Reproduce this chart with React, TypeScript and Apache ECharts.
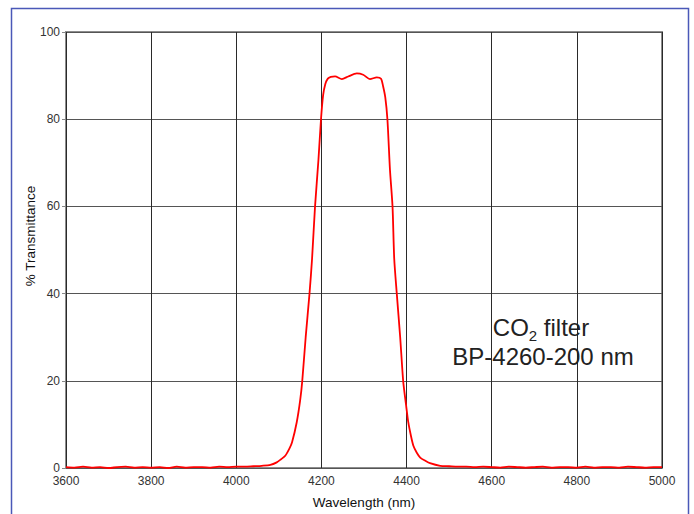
import React, { useEffect, useRef } from "react";
import * as echarts from "echarts";

const wavelength: number[] = [
  3600, 3620, 3640, 3660, 3680, 3700, 3720, 3740, 3760, 3780,
  3800, 3820, 3840, 3860, 3880, 3900, 3920, 3940, 3960, 3980,
  4000, 4020, 4040, 4060, 4080, 4095, 4105, 4115, 4125, 4131,
  4142, 4150, 4155, 4163, 4172, 4178, 4185, 4193, 4199, 4204,
  4209, 4215, 4222, 4232, 4248, 4263, 4283, 4298, 4314, 4330,
  4340, 4345, 4350, 4355, 4361, 4367, 4371, 4377, 4385, 4392,
  4399, 4404, 4410, 4416, 4424, 4432, 4445, 4455, 4479, 4500,
  4520, 4540, 4560, 4580, 4600, 4620, 4640, 4660, 4680, 4700,
  4720, 4740, 4760, 4780, 4800, 4820, 4840, 4860, 4880, 4900,
  4920, 4940, 4960, 4980, 5000,
];

const transmittance: number[] = [
  0.2, 0.1, 0.3, 0.1, 0.2, 0.0, 0.2, 0.3, 0.1, 0.2,
  0.1, 0.2, 0.0, 0.3, 0.1, 0.2, 0.2, 0.1, 0.3, 0.2,
  0.3, 0.3, 0.4, 0.5, 0.7, 1.3, 2.0, 2.8, 4.5, 5.9,
  10.5, 15.5, 20, 30, 40, 48, 60, 70.7, 80, 85.5,
  88, 89.3, 89.7, 89.8, 89.2, 89.8, 90.5, 90.2, 89.2, 89.6,
  89.3, 87.5, 85, 80, 68.4, 60, 48, 40, 30, 20,
  14.3, 10.5, 7.5, 5.1, 3.5, 2.4, 1.6, 1.1, 0.5, 0.4,
  0.3, 0.3, 0.2, 0.3, 0.2, 0.1, 0.3, 0.2, 0.1, 0.2,
  0.3, 0.1, 0.2, 0.2, 0.1, 0.3, 0.1, 0.2, 0.2, 0.1,
  0.3, 0.2, 0.1, 0.2, 0.2,
];

const xTicks = { min: 3600, max: 5000, interval: 200 };
const yTicks = { min: 0, max: 100, interval: 20 };

const xTitle = "Wavelength (nm)";
const yTitle = "% Transmittance";
const noteLine1 = ["CO", "2", " filter"];
const noteLine2 = "BP-4260-200 nm";

export default function App() {
  const ref = useRef<HTMLDivElement>(null);

  useEffect(() => {
    document.body.style.margin = "0";
    if (!ref.current) return;
    const chart = echarts.init(ref.current, undefined, { renderer: "svg" });
    const font = "Arial, 'Liberation Sans', sans-serif";
    chart.setOption({
      animation: false,
      backgroundColor: "#ffffff",
      textStyle: { fontFamily: font },
      grid: {
        left: 66,
        top: 32,
        right: 32,
        bottom: 45,
        show: true,
        borderColor: "#8c8c8c",
        borderWidth: 2,
        backgroundColor: "transparent",
      },
      xAxis: {
        type: "value",
        min: xTicks.min,
        max: xTicks.max,
        interval: xTicks.interval,
        name: xTitle,
        nameLocation: "middle",
        nameGap: 27,
        nameTextStyle: { fontSize: 13.5, color: "#111", fontFamily: font },
        axisLine: { show: false },
        axisTick: { show: false },
        axisLabel: {
          fontSize: 12,
          color: "#333",
          margin: 7,
          fontFamily: font,
          formatter: (v: number) => String(v),
        },
        splitLine: { show: true, lineStyle: { color: "#2a2a2a", width: 1 } },
      },
      yAxis: {
        type: "value",
        min: yTicks.min,
        max: yTicks.max,
        interval: yTicks.interval,
        axisLine: { show: false },
        axisTick: { show: true, length: 4, lineStyle: { color: "#888" } },
        axisLabel: {
          fontSize: 12,
          color: "#333",
          margin: 6,
          fontFamily: font,
          formatter: (v: number) => String(v),
        },
        splitLine: { show: true, lineStyle: { color: "#555", width: 1 } },
      },
      series: [
        {
          type: "line",
          data: wavelength.map((w, i) => [w, transmittance[i]]),
          showSymbol: false,
          smooth: 0.25,
          lineStyle: { color: "#ff0000", width: 1.8 },
          itemStyle: { color: "#ff0000" },
          z: 5,
        },
      ],
      graphic: [
        {
          type: "rect",
          silent: true,
          shape: { x: 11.5, y: 8.5, width: 677, height: 520 },
          style: { fill: "none", stroke: "#4a58b8", lineWidth: 1.5 },
          z: 100,
        },
        {
          type: "text",
          x: 30,
          y: 236,
          rotation: Math.PI / 2,
          style: {
            text: yTitle,
            fontSize: 13.5,
            fontFamily: font,
            textAlign: "center",
            textVerticalAlign: "middle",
            fill: "#111",
          },
          z: 100,
        },
        {
          type: "text",
          x: 541,
          y: 327,
          style: {
            text: `{a|${noteLine1[0]}}{b|${noteLine1[1]}}{a|${noteLine1[2]}}`,
            textAlign: "center",
            textVerticalAlign: "middle",
            fill: "#222",
            rich: {
              a: { fontSize: 24, lineHeight: 32, verticalAlign: "middle", fontFamily: font, fill: "#222" },
              b: { fontSize: 15, lineHeight: 15, verticalAlign: "bottom", fontFamily: font, fill: "#222" },
            },
          },
          z: 100,
        },
        {
          type: "text",
          x: 543,
          y: 356,
          style: {
            text: noteLine2,
            fontSize: 24,
            fontFamily: font,
            textAlign: "center",
            textVerticalAlign: "middle",
            fill: "#222",
          },
          z: 100,
        },
      ],
    });
    return () => chart.dispose();
  }, []);

  return <div ref={ref} style={{ width: 694, height: 514 }} />;
}
